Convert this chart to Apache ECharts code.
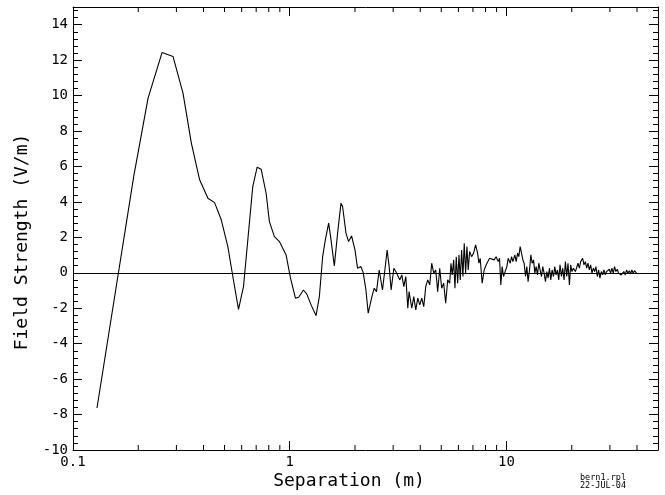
<!DOCTYPE html>
<html>
<head>
<meta charset="utf-8">
<script src="https://cdn.jsdelivr.net/npm/echarts@6/dist/echarts.min.js"></script>
<style>html,body{margin:0;padding:0;background:#fff}#c{width:665px;height:495px}</style>
</head>
<body>
<div id="c"></div>
<script>
// Separation (m) and field strength (V/m), in segments
const sepA = [0.1290,0.1908,0.2220,0.2575,0.2893,0.3217,0.3516,0.3839,0.4192,0.4500,0.4831,0.5181,0.5463,0.5802,0.6118,0.6751,0.7073,0.7379,0.7780,0.8057,0.8496,0.8958,0.962];
const fieldA = [-7.63,5.47,9.86,12.43,12.21,10.14,7.32,5.25,4.21,3.96,2.99,1.48,-0.21,-2.06,-0.78,4.87,5.96,5.85,4.49,2.89,2.04,1.76,1.01];
const sepB = [1.0074,1.0622,1.1000,1.1561,1.1973,1.2543,1.3226,1.3696,1.4184,1.4595,1.5115,1.5504,1.6056,1.6626,1.7235,1.7531,1.8173,1.8681,1.9284,1.9993,2.055,2.1303,2.1828,2.2461,2.3015,2.3932,2.4526,2.5131,2.5859,2.6329,2.678,2.7471,2.8145,2.8748,2.9362,3.0216,3.0862,3.1524,3.2201,3.2884,3.3591,3.431,3.5046];
const fieldB = [-0.29,-1.43,-1.38,-0.97,-1.19,-1.81,-2.42,-1.34,0.91,1.86,2.80,1.86,0.39,2.24,3.93,3.74,2.24,1.76,2.08,1.29,0.26,0.35,0.01,-0.97,-2.28,-1.34,-0.87,-1.06,0.16,0.26,-0.97,0.16,1.29,0.35,-0.97,0.26,0.07,0.16,-0.40,-0.12,-0.78,-0.21,-2.00];
const sepC = [3.5531,3.6562,3.7345,3.8144,3.8962,3.9798,4.0642,4.1517,4.2406,4.3315,4.4245,4.5184,4.6157,4.7144,4.8154,4.9189,5.0232,5.1314,5.2411,5.3536,5.4685,5.5442,5.6209,5.7047,5.7837,5.8641,5.9517,6.0342,6.118,6.2085,6.2952,6.3827,6.4778,6.5678,6.6589,6.7587,6.9021,7.0507,7.2015,7.3559,7.4578,7.5614,7.7233,7.8886,8.0575];
const fieldC = [-1.06,-2.00,-1.34,-2.09,-1.43,-1.81,-1.43,-1.91,-0.78,-0.40,-0.68,0.54,-0.02,0.16,-1.06,0.26,-0.87,-0.59,-1.72,-0.40,-0.59,0.54,-0.12,0.73,-0.87,0.91,-0.59,1.01,-0.40,1.29,-0.21,1.67,-0.02,1.48,0.16,1.20,0.91,1.11,1.58,1.11,0.54,0.82,-0.59,0.16,0.45];
const sepD = [8.3534,8.523,8.77,8.9578,9.1496,9.2868,9.4153,9.549,9.6916,9.8575,10.04,10.18,10.40,10.556,10.701,10.93,11.08,11.25,11.40,11.56,11.73,11.90,12.06,12.24,12.41,12.58,12.77,12.95,13.13,13.33,13.51,13.70,13.90,14.09,14.29,14.50,14.70,14.91,15.13,15.34,15.55,15.79,16.00,16.23,16.47,16.70,16.93,17.18,17.42,17.66,17.93,18.17,18.43,18.70,18.96,19.22,19.51,19.78,20.05,20.35,20.79];
const fieldD = [0.82,0.91,0.73,0.91,0.63,0.82,-0.68,0.35,-0.21,0.07,0.35,0.82,0.54,0.91,0.63,1.01,0.63,1.11,0.91,1.48,1.11,0.73,0.54,-0.21,0.35,-0.50,0.16,1.01,0.54,0.73,-0.02,0.35,-0.12,0.54,0.16,-0.21,0.35,-0.02,-0.50,0.07,-0.30,0.26,-0.40,0.16,-0.21,0.35,-0.12,0.16,-0.40,0.45,-0.21,0.26,-0.40,0.63,-0.21,0.54,-0.68,0.45,0.07,0.26,0.07];
const sepE = [21.08,21.37,21.69,21.99,22.46,22.77,23.11,23.44,23.76,24.11,24.45,24.79,25.16,25.51,25.86,26.25,26.61,26.98,27.38,27.76,28.15,28.57,28.96,29.36,29.80,30.22,30.63,31.09,31.52,31.96,32.44,32.89,33.34,33.84,34.31,34.79,35.31,35.80,36.29,36.84,37.35,37.86,38.43,38.96,39.80];
const fieldE = [0.07,0.54,0.26,0.63,0.82,0.45,0.63,0.26,0.54,0.16,0.45,-0.02,0.26,0.07,0.35,-0.21,0.16,-0.30,0.07,-0.12,0.16,-0.12,0.07,-0.02,0.20,-0.02,0.26,-0.02,0.35,0.07,0.20,-0.02,0.07,-0.12,-0.21,0.07,-0.12,0.16,-0.02,0.12,-0.06,0.16,-0.02,0.12,-0.02];

const xMinorTicks = [0.2,0.3,0.4,0.5,0.6,0.7,0.8,0.9,2,3,4,5,6,7,8,9,20,30,40];
const xRange = [0.1, 50];
const yRange = [-10, 15];
const yStep = 2;
const xTitle = 'Separation (m)';
const yTitle = 'Field Strength (V/m)';
const footLines = ['bern1.rpl', '22-JUL-04'];

const sep = [].concat(sepA, sepB, sepC, sepD, sepE);
const field = [].concat(fieldA, fieldB, fieldC, fieldD, fieldE);
const lineData = sep.map((s, i) => [s, field[i]]);

const font = 'DejaVu Sans Mono';
const chart = echarts.init(document.getElementById('c'), null, {renderer: 'canvas'});

const xBase = {
  type: 'log', logBase: 10, min: xRange[0], max: xRange[1],
  axisLine: {show: true, onZero: false, lineStyle: {color: '#000', width: 1}},
  axisTick: {show: true, inside: true, length: 9, lineStyle: {color: '#000', width: 1}},
  splitLine: {show: false}, minorTick: {show: false}, minorSplitLine: {show: false}
};
const yBase = {
  type: 'value', min: yRange[0], max: yRange[1], interval: yStep,
  axisLine: {show: true, onZero: false, lineStyle: {color: '#000', width: 1}},
  axisTick: {show: true, inside: true, length: 9, lineStyle: {color: '#000', width: 1}},
  minorTick: {show: true, splitNumber: 5, length: 5, lineStyle: {color: '#000', width: 1}},
  splitLine: {show: false}, minorSplitLine: {show: false}
};

chart.setOption({
  animation: false,
  backgroundColor: '#fff',
  grid: {left: 73, right: 7, top: 7, bottom: 45, containLabel: false},
  xAxis: [
    Object.assign({}, xBase, {
      position: 'bottom',
      axisLabel: {show: true, color: '#000', fontFamily: font, fontSize: 14, margin: 5,
        showMaxLabel: false, formatter: v => String(+(+v).toPrecision(3))}
    }),
    Object.assign({}, xBase, {position: 'top', axisLabel: {show: false}})
  ],
  yAxis: [
    Object.assign({}, yBase, {
      position: 'left',
      axisLabel: {show: true, color: '#000', fontFamily: font, fontSize: 14, margin: 5, showMaxLabel: false}
    }),
    Object.assign({}, yBase, {position: 'right', axisLabel: {show: false}})
  ],
  series: [
    {
      type: 'line', xAxisIndex: 0, yAxisIndex: 0, data: lineData,
      showSymbol: false, symbol: 'none', smooth: false,
      lineStyle: {color: '#000', width: 1.1}, itemStyle: {color: '#000'},
      markLine: {
        silent: true, symbol: ['none', 'none'], label: {show: false},
        lineStyle: {color: '#000', type: 'solid', width: 1},
        data: [{yAxis: 0}]
      }
    },
    {
      type: 'custom', xAxisIndex: 0, yAxisIndex: 0, silent: true, clip: false,
      data: xMinorTicks.map(v => [v, yRange[0]]),
      renderItem: function (params, api) {
        const v = api.value(0);
        const b = api.coord([v, yRange[0]]);
        const t = api.coord([v, yRange[1]]);
        return {type: 'group', children: [
          {type: 'line', shape: {x1: b[0], y1: b[1], x2: b[0], y2: b[1] - 5}, style: {stroke: '#000', lineWidth: 1}},
          {type: 'line', shape: {x1: t[0], y1: t[1], x2: t[0], y2: t[1] + 5}, style: {stroke: '#000', lineWidth: 1}}
        ]};
      }
    }
  ],
  graphic: [
    {type: 'text', x: 22, y: 242, rotation: Math.PI / 2,
      style: {text: yTitle, fill: '#000', font: '18px "' + font + '"', align: 'center', verticalAlign: 'middle'}},
    {type: 'text', x: 349, y: 481,
      style: {text: xTitle, fill: '#000', font: '18px "' + font + '"', align: 'center', verticalAlign: 'middle'}},
    {type: 'text', x: 580, y: 478,
      style: {text: footLines[0], fill: '#000', font: '8.5px "' + font + '"', align: 'left', verticalAlign: 'middle'}},
    {type: 'text', x: 580, y: 486,
      style: {text: footLines[1], fill: '#000', font: '8.5px "' + font + '"', align: 'left', verticalAlign: 'middle'}}
  ]
});
</script>
</body>
</html>
